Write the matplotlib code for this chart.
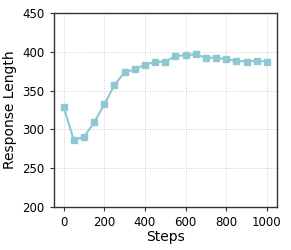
import matplotlib
matplotlib.use("Agg")
import matplotlib.pyplot as plt

steps = [0, 50, 100, 150, 200, 250, 300, 350, 400, 450, 500, 550, 600, 650, 700, 750, 800, 850, 900, 950, 1000]
lengths = [328.4, 286.2, 290.5, 309.0, 332.3, 357.3, 373.7, 377.2, 383.6, 386.6, 387.5, 394.4, 395.7, 396.6, 392.2, 392.2, 390.5, 388.4, 387.5, 388.4, 387.5]
xticks = [0, 200, 400, 600, 800, 1000]
yticks = [200, 250, 300, 350, 400, 450]

fig = plt.figure(figsize=(2.91, 2.5), dpi=100)
ax = fig.add_axes([0.184, 0.172, 0.768, 0.776])
ax.plot(steps, lengths, color="#8ec8d0", marker="s", markersize=4.5, linewidth=1.5)
ax.set_xlim(-50, 1050)
ax.set_ylim(200, 450)
ax.set_xticks(xticks)
ax.set_yticks(yticks)
ax.tick_params(labelsize=8.5, length=3, color="#333333")
ax.grid(True, linestyle=":", color="#cccccc", linewidth=0.7)
ax.set_xlabel("Steps", fontsize=10, labelpad=1)
ax.set_ylabel("Response Length", fontsize=10, labelpad=4)
for s in ax.spines.values():
    s.set_linewidth(1.0)
    s.set_color("#333333")
fig.savefig("out.png", dpi=100)
